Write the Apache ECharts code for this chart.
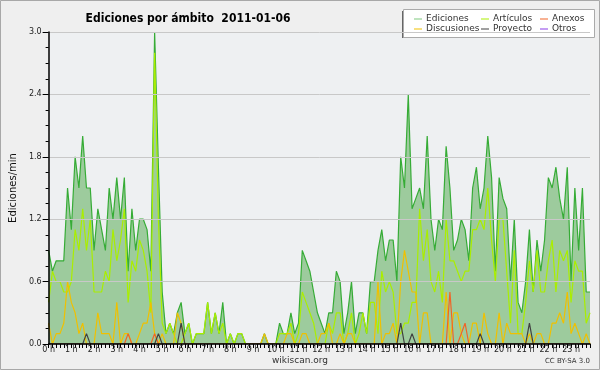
<!DOCTYPE html>
<html>
<head>
<meta charset="utf-8">
<script src="https://cdn.jsdelivr.net/npm/echarts@6/dist/echarts.min.js"></script>
<style>
html,body{margin:0;padding:0;background:#efefef;}
#c{width:600px;height:370px;}
</style>
</head>
<body>
<div id="c"></div>
<script>
// 10-minute slots, 0:00 .. 23:50
const slots = [];
for (let h = 0; h < 24; h++) for (let m = 0; m < 60; m += 10) slots.push(h + ':' + (m < 10 ? '0' + m : m));

const yTicks = [0, 0.6, 1.2, 1.8, 2.4, 3.0];

const ediciones = [
0.9,0.7,0.8,0.8,0.8,1.5,1.1,1.8,1.5,2.0,
1.5,1.5,0.9,1.3,1.1,0.9,1.5,1.2,1.6,1.2,
1.6,0.7,1.3,0.9,1.2,1.2,1.1,0.7,3.0,1.7,
0.5,0.1,0.2,0.1,0.3,0.4,0.1,0.2,0.0,0.1,
0.1,0.1,0.4,0.1,0.3,0.1,0.4,0.0,0.1,0.0,
0.1,0.1,0,0,0,0,0,0.1,0,0,
0,0.2,0.1,0.1,0.3,0.1,0.2,0.9,0.8,0.7,
0.5,0.3,0.2,0.1,0.3,0.3,0.7,0.6,0.1,0.3,
0.6,0.1,0.3,0.3,0.1,0.6,0.6,0.9,1.1,0.8,
1.0,1.0,0.6,1.8,1.5,2.4,1.3,1.4,1.5,1.3,
2.0,1.2,0.9,1.2,1.1,1.9,1.5,0.9,1.0,1.2,
1.1,0.8,1.5,1.7,1.3,1.5,2.0,1.6,0.7,1.6,
1.4,1.3,0.6,1.2,0.4,0.3,0.6,1.1,0.5,1.0,
0.7,1.0,1.6,1.5,1.7,1.4,1.2,1.7,0.6,1.5,
0.9,1.5,0.5,0.5
];

const articulos = [
0.4,0.7,0.6,0.6,0.5,0.5,0.6,1.1,0.9,1.3,
0.9,1.2,0.5,0.5,0.5,0.7,0.6,1.1,0.8,1.0,
1.3,0.4,0.8,0.7,1.0,0.9,0.7,0.3,2.8,1.2,
0.2,0.1,0.2,0.1,0,0,0.1,0.2,0,0.1,
0.1,0.1,0.4,0.1,0.3,0.1,0.2,0,0.1,0,
0.1,0.1,0,0,0,0,0,0,0,0,
0,0.1,0.1,0.1,0.2,0,0.1,0.5,0.4,0.3,
0.2,0,0,0,0.2,0.1,0.3,0.3,0,0.1,
0.3,0,0.1,0.3,0.1,0.4,0.4,0.1,0.7,0.5,
0.6,0.5,0.1,0.1,0.2,0.2,0.4,0.4,1.3,0.8,
1.1,0.6,0.5,0.7,0.4,1.2,0.8,0.8,0.7,0.6,
0.7,0.7,1.1,1.1,1.2,1.1,1.5,1.0,0.6,1.2,
1.2,0.7,0.2,0.9,0.1,0.1,0.4,0.8,0.5,0.9,
0.5,0.5,0.8,1.0,0.5,0.9,0.8,0.9,0.4,0.8,
0.7,0.7,0.2,0.3
];

const anexos = [
0,0,0,0,0,0,0,0,0,0,
0,0,0,0,0,0,0,0,0,0,
0,0.1,0,0,0,0,0,0,0.1,0,
0,0,0,0,0,0,0,0,0,0,
0,0,0,0,0,0,0,0,0,0,
0,0,0,0,0,0,0,0,0,0,
0,0,0,0,0,0,0,0,0,0,
0,0,0,0,0,0,0,0,0,0,
0,0,0,0,0,0,0,0,0,0,
0,0,0,0,0,0,0,0,0,0,
0,0,0,0,0,0,0.5,0,0,0.1,
0.2,0,0,0,0,0,0,0,0,0,
0,0,0,0,0,0,0,0,0,0,
0,0,0,0,0,0,0,0,0,0,
0,0,0,0
];

const discusiones = [
0.2,0,0.1,0.1,0.2,0.6,0.4,0.3,0.1,0.2,
0,0,0,0.3,0.1,0.1,0.1,0,0.4,0,
0.1,0.1,0,0,0.1,0.2,0.2,0.4,0.1,0,
0.1,0,0,0,0.3,0.2,0,0,0,0,
0,0,0,0,0,0,0,0,0,0,
0,0,0,0,0,0,0,0.1,0,0,
0,0,0,0.1,0.1,0,0,0.1,0.1,0,
0,0,0.1,0.1,0.2,0,0,0.1,0,0.1,
0.1,0,0,0,0,0,0,0.6,0,0.1,
0.1,0.2,0,0.6,0.9,0.7,0.5,0.5,0,0.3,
0.3,0,0,0,0,0.5,0,0.3,0.3,0.1,
0,0,0.2,0.2,0,0.3,0.1,0,0,0.3,
0,0.2,0.1,0.1,0.1,0.1,0,0.1,0,0.1,
0.1,0,0,0.2,0.2,0.3,0.2,0.5,0.1,0.2,
0.1,0,0.1,0
];

const proyecto = [
0,0,0,0,0,0,0,0,0,0,
0.1,0,0,0,0,0,0,0,0,0,
0,0,0,0,0,0,0,0,0,0.1,
0,0,0,0,0,0.2,0,0,0,0,
0,0,0,0,0,0,0,0,0,0,
0,0,0,0,0,0,0,0,0,0,
0,0,0,0,0,0,0,0,0,0,
0,0,0,0,0,0,0,0,0,0,
0,0,0,0,0,0,0,0,0,0,
0,0,0,0.2,0,0,0.1,0,0,0,
0,0,0,0,0,0,0,0,0,0,
0,0,0,0,0.1,0,0,0,0,0,
0,0,0,0,0,0,0,0.2,0,0,
0,0,0,0,0,0,0,0,0,0,
0,0,0,0
];

const otros = [
0,0,0,0,0,0,0,0,0,0,0,0,0,0,0,0,0,0,0,0,0,0,0,0,
0,0,0,0,0,0,0,0,0,0,0,0,0,0,0,0,0,0,0,0,0,0,0,0,
0,0,0,0,0,0,0,0,0,0,0,0,0,0,0,0,0,0,0,0,0,0,0,0,
0,0,0,0,0,0,0,0,0,0,0,0,0,0,0,0,0,0,0,0,0,0,0,0,
0,0,0,0,0,0,0,0,0,0,0,0,0,0,0,0,0,0,0,0,0,0,0,0,
0,0,0,0,0,0,0,0,0,0,0,0,0,0,0,0,0,0,0,0,0,0,0,0
];

const C = {
  ediciones: '#36ac36', edicionesFill: '#9dcb9d',
  articulos: '#aaee00', anexos: '#f06428', discusiones: '#f0c000',
  proyecto: '#404040', otros: '#8a3ce6'
};

function ln(name, data, color, z) {
  return { name, type: 'line', data, symbol: 'none', showSymbol: false, z: z,
    lineStyle: { color, width: 1.2 }, itemStyle: { color }, animation: false };
}

const chart = echarts.init(document.getElementById('c'), null, { renderer: 'canvas' });
const legendCommon = {
  orient: 'vertical', top: 14, itemGap: 0, itemWidth: 8, itemHeight: 1,
  icon: 'rect', selectedMode: false, padding: 0,
  textStyle: { fontFamily: 'DejaVu Sans', fontSize: 9, color: '#333', lineHeight: 10, padding: [0, 0, 0, -1] }
};
chart.setOption({
  backgroundColor: '#efefef',
  animation: false,
  title: {
    text: 'Ediciones por ámbito  2011-01-06',
    left: 183, top: 8, textAlign: 'center',
    textStyle: { fontFamily: 'DejaVu Sans Condensed, DejaVu Sans', fontWeight: 'bold', fontSize: 12, color: '#000' }
  },
  legend: [
    Object.assign({}, legendCommon, { left: 414, data: [
      { name: 'Ediciones', itemStyle: { color: '#7fc87f' } }, 'Discusiones'] }),
    Object.assign({}, legendCommon, { left: 481, data: ['Artículos', 'Proyecto'] }),
    Object.assign({}, legendCommon, { left: 540, data: ['Anexos', 'Otros'] })
  ],
  grid: { left: 46, right: 10, top: 32, bottom: 26, show: true, backgroundColor: '#eef0f2', borderWidth: 0 },
  xAxis: {
    type: 'category', data: slots, boundaryGap: false, z: 10,
    axisLine: { lineStyle: { color: '#000', width: 1.5 } },
    axisTick: { interval: 0, length: 4, lineStyle: { color: '#000' } },
    axisLabel: { interval: 5, margin: 2, fontFamily: 'DejaVu Sans', fontSize: 8, color: '#222',
      formatter: v => parseInt(v.split(':')[0], 10) + ' h' },
    splitLine: { show: false }
  },
  yAxis: {
    type: 'value', min: yTicks[0], max: yTicks[yTicks.length - 1], interval: 0.6, z: 10,
    name: 'Ediciones/min', nameLocation: 'middle', nameGap: 30,
    nameTextStyle: { fontFamily: 'DejaVu Sans', fontSize: 10, color: '#111' },
    axisLine: { show: true, lineStyle: { color: '#000', width: 1.5 } },
    axisTick: { show: true, length: 6, lineStyle: { color: '#000' } },
    minorTick: { show: true, splitNumber: 4, length: 3, lineStyle: { color: '#000' } },
    axisLabel: { margin: 7, fontFamily: 'DejaVu Sans', fontSize: 8, color: '#222', formatter: v => v.toFixed(1) },
    splitLine: { show: true, lineStyle: { color: '#c8c8c8', width: 1 } }
  },
  series: [
    Object.assign(ln('Ediciones', ediciones, C.ediciones, 2), { areaStyle: { color: C.edicionesFill, opacity: 1 } }),
    ln('Artículos', articulos, C.articulos, 3),
    ln('Anexos', anexos, C.anexos, 4),
    ln('Discusiones', discusiones, C.discusiones, 3),
    ln('Proyecto', proyecto, C.proyecto, 4),
    ln('Otros', otros, C.otros, 1)
  ],
  graphic: [
    { type: 'rect', silent: true, z: -1, shape: { x: 0.5, y: 0.5, width: 599, height: 369 },
      style: { fill: 'none', stroke: '#a8a8a8', lineWidth: 1 } },
    { type: 'rect', silent: true, z: 0, shape: { x: 402, y: 11, width: 3, height: 27 }, style: { fill: '#666' } },
    { type: 'rect', silent: true, z: 0, shape: { x: 403.5, y: 9.5, width: 191, height: 28 },
      style: { fill: '#fff', stroke: '#aaa', lineWidth: 1 } },
    { type: 'text', silent: true, left: 'center', top: 356,
      style: { text: 'wikiscan.org', fontFamily: 'DejaVu Sans', fontSize: 9, fill: '#333' } },
    { type: 'text', silent: true, right: 10, top: 358,
      style: { text: 'CC BY-SA 3.0', fontFamily: 'DejaVu Sans', fontSize: 7, fill: '#333' } }
  ]
});
</script>
</body>
</html>
